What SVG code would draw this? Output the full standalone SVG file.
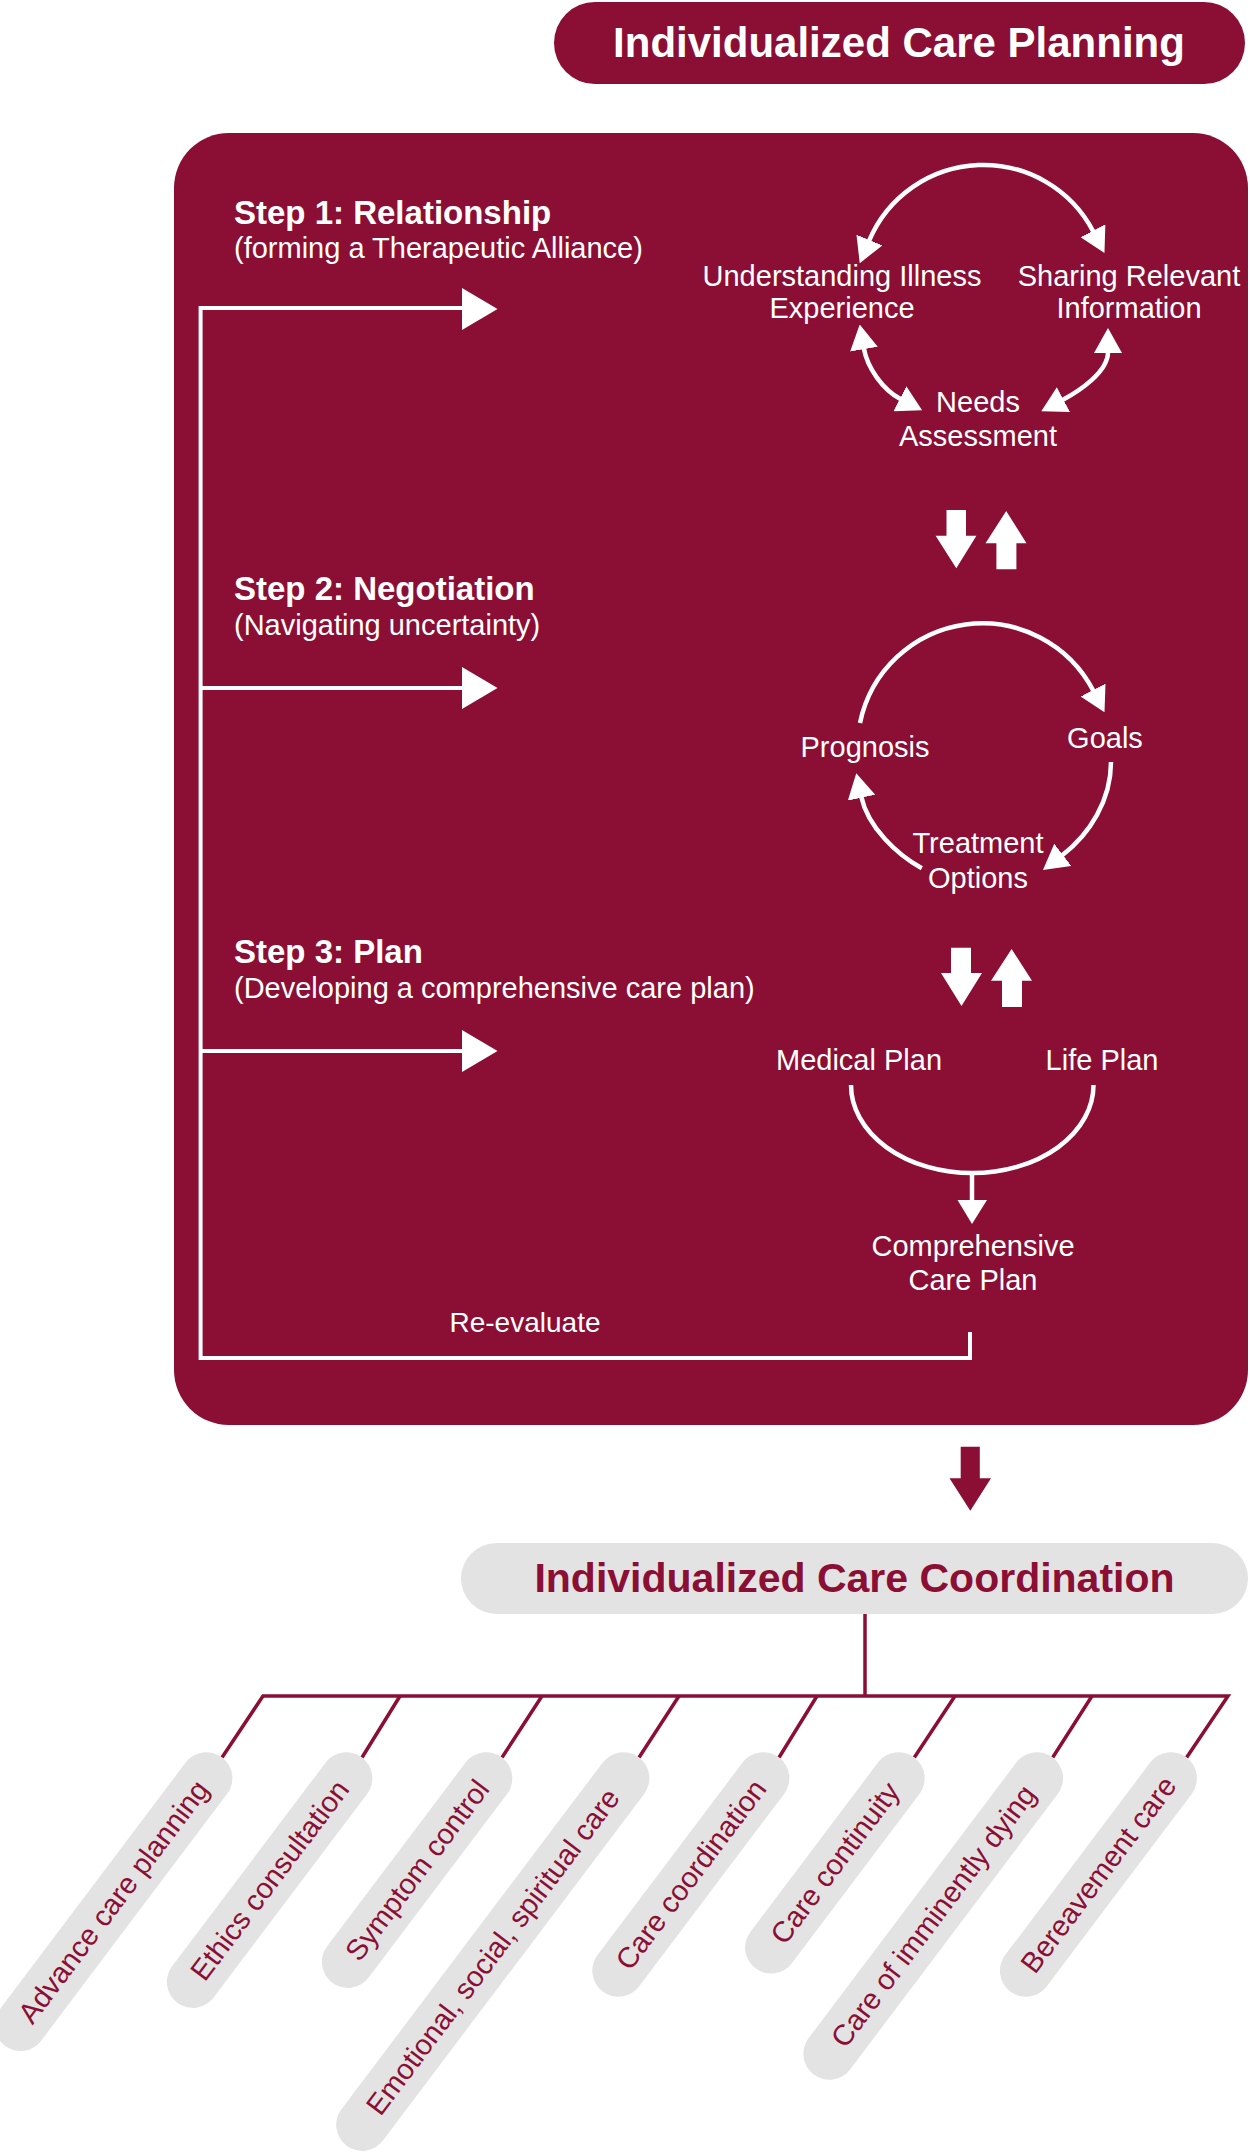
<svg xmlns="http://www.w3.org/2000/svg" width="1250" height="2154" viewBox="0 0 1250 2154">
<style>
text{font-family:"Liberation Sans",Arial,Helvetica,sans-serif}
.w{fill:#fff}
.lbl{font-size:29px}
.c{text-anchor:middle}
.step{font-size:33px;font-weight:bold}
.title{font-size:42px;font-weight:bold;text-anchor:middle}
.wl{fill:none;stroke:#fff;stroke-width:4.5}
.wb{fill:none;stroke:#fff;stroke-width:4}
.ml{fill:none;stroke:#8b0f35;stroke-width:3.5;stroke-linejoin:miter}
.pill rect{fill:#e3e3e3}
.pill text{fill:#8b0f35;font-size:29px;text-anchor:middle}
</style>
<defs>
<marker id="ah" viewBox="0 0 25 28" refX="1" refY="14" markerWidth="25" markerHeight="28" markerUnits="userSpaceOnUse" orient="auto-start-reverse">
<path d="M0,0 L25,14 L0,28 z" fill="#fff"/>
</marker>
</defs>

<g id="planning-title">
<rect x="554" y="2" width="691" height="82" rx="41" fill="#8b0f35"/>
<text class="title w" x="899" y="57">Individualized Care Planning</text>
</g>

<g id="planning-box">
<rect x="174" y="133" width="1074" height="1292" rx="55" fill="#8b0f35"/>
</g>

<g id="step1">
<text class="w step" x="234" y="224">Step 1: Relationship</text>
<text class="w lbl" x="234" y="258">(forming a Therapeutic Alliance)</text>
</g>
<g id="step2">
<text class="w step" x="234" y="600">Step 2: Negotiation</text>
<text class="w lbl" x="234" y="635">(Navigating uncertainty)</text>
</g>
<g id="step3">
<text class="w step" x="234" y="963">Step 3: Plan</text>
<text class="w lbl" x="234" y="998">(Developing a comprehensive care plan)</text>
</g>

<g id="node-understanding"><text class="w lbl c" x="842" y="286">Understanding Illness</text><text class="w lbl c" x="842" y="318">Experience</text></g>
<g id="node-sharing"><text class="w lbl c" x="1129" y="286">Sharing Relevant</text><text class="w lbl c" x="1129" y="318">Information</text></g>
<g id="node-needs"><text class="w lbl c" x="978" y="412">Needs</text><text class="w lbl c" x="978" y="446">Assessment</text></g>
<g id="node-prognosis"><text class="w lbl c" x="865" y="757">Prognosis</text></g>
<g id="node-goals"><text class="w lbl c" x="1105" y="748">Goals</text></g>
<g id="node-treatment"><text class="w lbl c" x="978" y="853">Treatment</text><text class="w lbl c" x="978" y="888">Options</text></g>
<g id="node-medical"><text class="w lbl c" x="859" y="1070">Medical Plan</text></g>
<g id="node-life"><text class="w lbl c" x="1102" y="1070">Life Plan</text></g>
<g id="node-comprehensive"><text class="w lbl c" x="973" y="1256">Comprehensive</text><text class="w lbl c" x="973" y="1290">Care Plan</text></g>
<g id="node-reevaluate"><text class="w c" x="525" y="1332" style="font-size:28px">Re-evaluate</text></g>

<g id="connectors">
<path class="wb" d="M970,1332 V1358 H200.6 V308 H464"/>
<path class="wb" d="M200.6,688 H464 M200.6,1051 H464"/>
<polygon fill="#fff" points="462,288 497.5,309 462,330"/>
<polygon fill="#fff" points="462,667 497.5,688 462,709"/>
<polygon fill="#fff" points="462,1030 497.5,1051 462,1072"/>
<path class="wl" d="M869,241 A124,124 0 0 1 1093.4,231.7" marker-start="url(#ah)" marker-end="url(#ah)"/>
<path class="wl" d="M863.8,348.2 C867.2,367.8 883,390 900.8,399.2" marker-start="url(#ah)" marker-end="url(#ah)"/>
<path class="wl" d="M1108,352 C1108,372 1079.3,391.1 1062.5,400" marker-start="url(#ah)" marker-end="url(#ah)"/>
<polygon fill="#fff" points="946.5,510 966,510 966,535.7 976.4,535.7 956.3,568.3 935.6,535.7 946.5,535.7"/>
<polygon fill="#fff" points="996.4,569.3 1016.4,569.3 1016.4,543.3 1026.5,543.3 1006.2,511 985.5,543.3 996.4,543.3"/>
<path class="wl" d="M860,723 A125,125 0 0 1 1093.5,691" marker-end="url(#ah)"/>
<path class="wl" d="M1111,762 C1111,800 1090,834 1062,855.5" marker-end="url(#ah)"/>
<path class="wl" d="M921.8,868.3 C898,855 868,828 861.3,796.7" marker-end="url(#ah)"/>
<polygon fill="#fff" points="951,947.7 971,947.7 971,973 982,973 961.5,1006 941,973 951,973"/>
<polygon fill="#fff" points="1002,1007 1022,1007 1022,980.7 1032,980.7 1011.6,949 991,980.7 1002,980.7"/>
<path class="wl" d="M851,1085 A121,88 0 0 0 1093.5,1085"/>
<path class="wl" d="M972,1172 V1202"/>
<polygon fill="#fff" points="957.5,1200 987,1200 972,1224"/>
<polygon fill="#8b0f35" points="960.7,1446.7 979.8,1446.7 979.8,1478.3 991,1478.3 970.3,1510.7 949.5,1478.3 960.7,1478.3"/>
<path class="ml" d="M865,1614 V1696"/>
<path class="ml" d="M222,1757.5 L263,1696 L1228,1696 L1186.6,1757.5"/>
<path class="ml" d="M400,1696 L362,1757.5 M542,1696 L502,1757.5 M679,1696 L639,1757.5 M817,1696 L779,1757.5 M955,1696 L914.3,1757.5 M1092,1696 L1052.7,1757.5"/>
</g>

<g id="coordination-title">
<rect x="461" y="1543" width="787" height="71" rx="35.5" fill="#e3e3e3"/>
<text class="title" x="854.5" y="1592" style="font-size:41px" fill="#8b0f35">Individualized Care Coordination</text>
</g>

<g id="item-advance" class="pill" transform="translate(113.4,1901.6) rotate(-53)">
<rect x="-180.5" y="-26" width="361" height="52" rx="26"/><text x="0" y="10">Advance care planning</text></g>
<g id="item-ethics" class="pill" transform="translate(269.6,1880.1) rotate(-53)">
<rect x="-153.5" y="-26" width="307" height="52" rx="26"/><text x="0" y="10">Ethics consultation</text></g>
<g id="item-symptom" class="pill" transform="translate(417.1,1870.1) rotate(-53)">
<rect x="-141" y="-26" width="282" height="52" rx="26"/><text x="0" y="10">Symptom control</text></g>
<g id="item-emotional" class="pill" transform="translate(492.8,1951.6) rotate(-53)">
<rect x="-243" y="-26" width="486" height="52" rx="26"/><text x="0" y="10">Emotional, social, spiritual care</text></g>
<g id="item-coordination" class="pill" transform="translate(690.8,1874.5) rotate(-53)">
<rect x="-146.5" y="-26" width="293" height="52" rx="26"/><text x="0" y="10">Care coordination</text></g>
<g id="item-continuity" class="pill" transform="translate(834.9,1862.9) rotate(-53)">
<rect x="-132" y="-26" width="264" height="52" rx="26"/><text x="0" y="10">Care continuity</text></g>
<g id="item-dying" class="pill" transform="translate(933.2,1916) rotate(-53)">
<rect x="-198.5" y="-26" width="397" height="52" rx="26"/><text x="0" y="10">Care of imminently dying</text></g>
<g id="item-bereavement" class="pill" transform="translate(1098.4,1874.5) rotate(-53)">
<rect x="-146.5" y="-26" width="293" height="52" rx="26"/><text x="0" y="10">Bereavement care</text></g>
</svg>
